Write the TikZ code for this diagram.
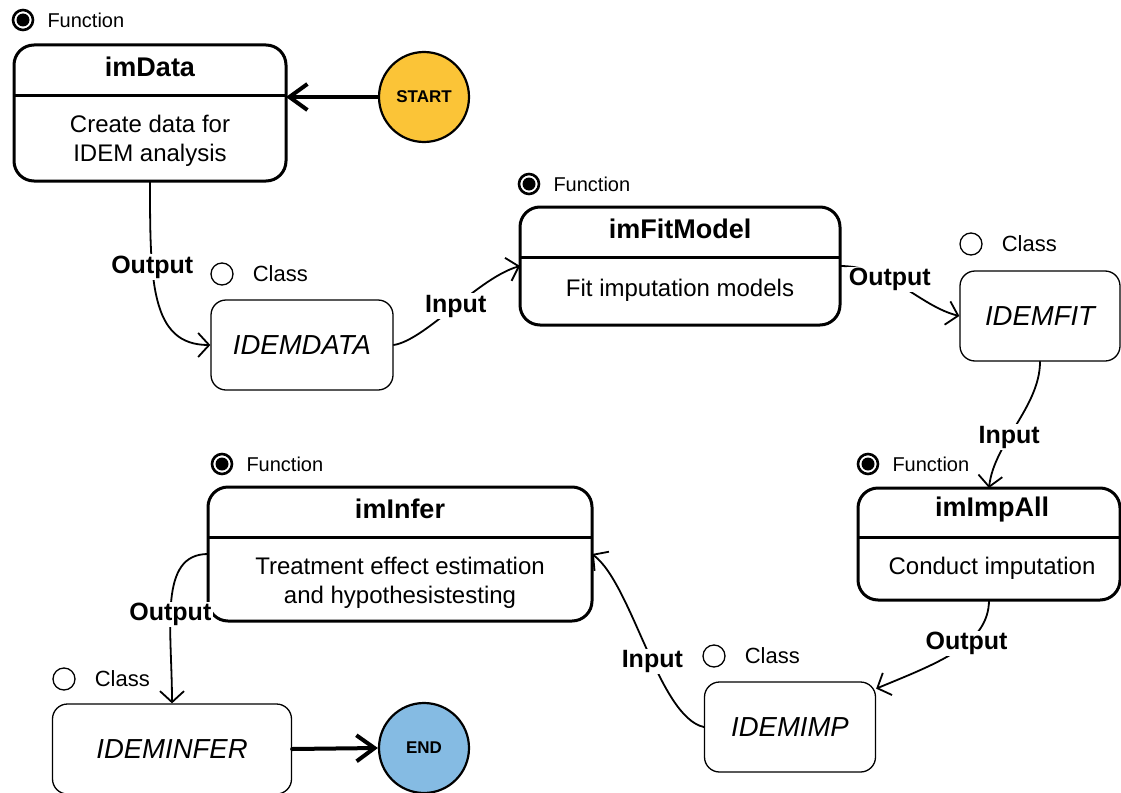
\documentclass[tikz,border=0pt]{standalone}
\usepackage{fontspec}
\setmainfont{Liberation Sans}
\usetikzlibrary{arrows.meta,positioning}
\definecolor{startFill}{HTML}{FBC437}
\definecolor{endFill}{HTML}{85BBE3}
\tikzset{
 workflow/.style={line cap=round,line join=round},
 fnbox/.style={draw,line width=3pt,rounded corners=20pt,fill=white,outer sep=0pt},
 fnrule/.style={draw,line width=3pt,line cap=butt},
 fntitle/.style={font=\fontsize{27}{31}\selectfont\bfseries,inner sep=0pt},
 fnbody/.style={font=\fontsize{24}{29}\selectfont,align=center,inner sep=0pt},
 clbox/.style={draw,line width=1.3pt,rounded corners=15pt,fill=white,
   font=\fontsize{27.5}{31}\selectfont\itshape,minimum height=90pt},
 fnmark/.style={circle,draw,line width=2.6pt,minimum size=20pt,inner sep=0pt,
   path picture={\fill (path picture bounding box.center) circle (6.5pt);}},
 clmark/.style={circle,draw,line width=1.3pt,minimum size=22pt,inner sep=0pt},
 fnword/.style={font=\fontsize{20}{24}\selectfont,inner sep=0pt},
 clword/.style={font=\fontsize{22}{26}\selectfont,inner sep=0pt},
 io/.style={font=\fontsize{25}{30}\selectfont\bfseries,fill=white,inner sep=1.5pt},
 flow/.style={draw,line width=1.8pt,-{Straight Barb[length=11pt,width=24pt]}},
 terminal/.style={circle,draw,line width=2.2pt,minimum size=90pt,inner sep=0pt,
   font=\fontsize{17}{20}\selectfont\bfseries},
 bigflow/.style={draw,line width=4pt,-{Straight Barb[length=18pt,width=26pt]}}
}
\begin{document}
\begin{tikzpicture}[workflow,x=1pt,y=-1pt]
 \useasboundingbox (0,0) rectangle (1121,792);
 % functions
 \node[fnbox,minimum width=272pt,minimum height=136pt] (imdata) at (150,113) {};
 \node[fntitle] (imdataT) at (150,67) {imData};
 \draw[fnrule] (imdata.west |- 0,95) -- (imdata.east |- 0,95);
 \node[fnbody] (imdataB) at (150,141) {Create data for\\IDEM analysis};
 \node[fnmark] (fm1) at (23,20) {}; \node[fnword,right=13pt of fm1] (fw1) {Function};

 \node[fnbox,minimum width=320pt,minimum height=118pt] (imfit) at (680,266) {};
 \node[fntitle] (imfitT) at (680,229) {imFitModel};
 \draw[fnrule] (imfit.west |- 0,257) -- (imfit.east |- 0,257);
 \node[fnbody] (imfitB) at (680,290) {Fit imputation models};
 \node[fnmark] (fm2) at (529,184) {}; \node[fnword,right=13pt of fm2] (fw2) {Function};

 \node[fnbox,minimum width=262pt,minimum height=112pt] (imimp) at (989,544) {};
 \node[fntitle] (imimpT) at (992,510) {imImpAll};
 \draw[fnrule] (imimp.west |- 0,537) -- (imimp.east |- 0,537);
 \node[fnbody] (imimpB) at (992,568) {Conduct imputation};
 \node[fnmark] (fm3) at (868,464) {}; \node[fnword,right=13pt of fm3] (fw3) {Function};

 \node[fnbox,minimum width=384pt,minimum height=134pt] (iminfer) at (400,554) {};
 \node[fntitle] (iminferT) at (400,509) {imInfer};
 \draw[fnrule] (iminfer.west |- 0,537) -- (iminfer.east |- 0,537);
 \node[fnbody] (iminferB) at (400,583) {Treatment effect estimation\\and hypothesistesting};
 \node[fnmark] (fm4) at (222,464) {}; \node[fnword,right=13pt of fm4] (fw4) {Function};

 % classes
 \node[clbox,minimum width=182pt] (idemdata) at (302,345) {IDEMDATA};
 \node[clmark] (cm1) at (222,274) {}; \node[clword,right=19pt of cm1] (cw1) {Class};
 \node[clbox,minimum width=160pt] (idemfit) at (1040,316) {IDEMFIT};
 \node[clmark] (cm2) at (971,244) {}; \node[clword,right=19pt of cm2] (cw2) {Class};
 \node[clbox,minimum width=171pt] (idemimp) at (790,727) {IDEMIMP};
 \node[clmark] (cm3) at (714,656) {}; \node[clword,right=19pt of cm3] (cw3) {Class};
 \node[clbox,minimum width=239pt] (ideminfer) at (172,749) {IDEMINFER};
 \node[clmark] (cm4) at (64,679) {}; \node[clword,right=19pt of cm4] (cw4) {Class};

 % start / end
 \node[terminal,fill=startFill] (start) at (424,97) {START};
 \node[terminal,fill=endFill] (end) at (424,748) {END};
 \draw[bigflow] (start.west) -- (start.west -| imdata.east);
 \draw[bigflow] (ideminfer.east) -- (end.west);

 % data flow
 \draw[flow] (imdata.south) .. controls +(0,100) and +(-60,0) .. node[io,pos=.33] (o1) {Output} (idemdata.west);
 \draw[flow] (idemdata.east) .. controls +(32,-5) and +(-42,12) .. node[io,pos=.52] (i1) {Input} (imfit.west);
 \draw[flow] (imfit.east) .. controls +(50,0) and +(-40,-10) .. node[io,pos=.38] (o2) {Output} (idemfit.west);
 \draw[flow] (idemfit.south) .. controls +(0,45) and +(5,-45) .. node[io,pos=.6] (i2) {Input} (imimp.north);
 \draw[flow] (imimp.south) .. controls +(0,45) and +(60,-25) .. node[io,pos=.4] (o3) {Output} (idemimp.24);
 \draw[flow] (idemimp.west) .. controls +(-45,-10) and +(40,30) .. node[io,pos=.44] (i3) {Input} (iminfer.east);
 \draw[flow] (iminfer.west) .. controls +(-50,0) and +(0,-75) .. node[io,pos=.58] (o4) {Output} (ideminfer.north);
\end{tikzpicture}
\end{document}
